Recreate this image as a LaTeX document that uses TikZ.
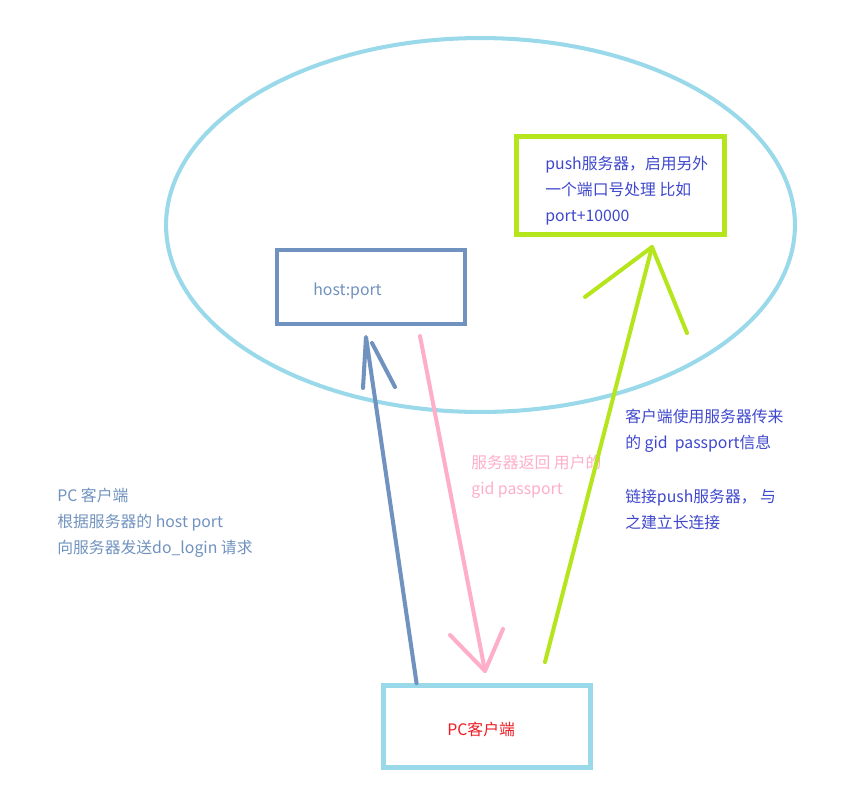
\documentclass[tikz,border=0pt]{standalone}
\usepackage{fontspec}
\setmainfont{Noto Sans CJK SC}
\usetikzlibrary{positioning, calc}
\definecolor{skyblue}{HTML}{99D9EA}
\definecolor{steelblue}{HTML}{7092BE}
\definecolor{limegreen}{HTML}{B5E61D}
\definecolor{softpink}{HTML}{FFAEC9}
\definecolor{indigo}{HTML}{3F48CC}
\definecolor{pcred}{HTML}{ED1C24}
\tikzset{
	boxnode/.style={
			draw,
			line width=2.6pt,
			fill=white,
			inner sep=0pt
		},
	hostbox/.style={
			boxnode,
			draw=steelblue,
			minimum width=3.76cm,
			minimum height=1.48cm
		},
	pushbox/.style={
			boxnode,
			draw=limegreen,
			minimum width=4.16cm,
			minimum height=1.96cm
		},
	pcbox/.style={
			boxnode,
			draw=skyblue,
			minimum width=4.14cm,
			minimum height=1.64cm
		},
	notetext/.style={
			align=left,
			anchor=base west,
			inner sep=0pt,
			font=\fontsize{9}{14.8}\selectfont
		},
	penline/.style={
			line width=2.3pt,
			line cap=round,
			line join=round
		}
}

\begin{document}
\begin{tikzpicture}[x=0.02cm, y=-0.02cm]
\useasboundingbox (0,0) rectangle (862,795);

\draw[skyblue, line width=2.3pt] (480.5,225) ellipse (6.29cm and 3.74cm);

\node[hostbox] (host) at (371,287) {};
\node[pushbox] (push) at (620.5,185.5) {};
\node[pcbox] (pc) at (487,726.5) {};

% multi-line notes sit on the baseline of their last line
\node[notetext, text=steelblue] (hostText) at (313,295) {host:port};
\node[notetext, text=indigo] (pushText) at (545,221)
	{push服务器，启用另外\\一个端口号处理 比如\\port+10000};
\node[notetext, text=pcred] (pcText) at (447,735) {PC客户端};
\node[notetext, text=softpink] (backText) at (471,494) {服务器返回 用户的\\gid passport};
\node[notetext, text=steelblue] (loginText) at (57,553)
	{PC 客户端\\根据服务器的 host port\\向服务器发送do\_login 请求};
\node[notetext, text=indigo] (useText) at (625,448)
	{客户端使用服务器传来\\的 gid\ \ passport信息};
\node[notetext, text=indigo] (linkText) at (625,528)
	{链接push服务器， 与\\之建立长连接};

% hand drawn arrows
\coordinate (blueTail) at ($(pc.north west)!0.167!(pc.north east)$);
\coordinate (blueTip) at (366,337);
\coordinate (blueBarbL) at (363,388);
\coordinate (blueTip2) at (372,343);
\coordinate (blueBarbR) at (395,387);
\draw[penline, steelblue] (blueTail) -- (blueTip) -- (blueBarbL);
\draw[penline, steelblue] (blueTip2) -- (blueBarbR);

\coordinate (pinkTail) at (420,336);
\coordinate (pinkTip) at (485,671);
\coordinate (pinkBarbL) at (450,635);
\coordinate (pinkBarbR) at (503,629);
\draw[penline, softpink] (pinkTail) -- (pinkTip);
\draw[penline, softpink] (pinkBarbL) -- (pinkTip) -- (pinkBarbR);

\coordinate (greenTail) at (545,662);
\coordinate (greenTip) at (652,247);
\coordinate (greenBarbL) at (585,297);
\coordinate (greenBarbR) at (687,333);
\draw[penline, limegreen] (greenTail) -- (greenTip);
\draw[penline, limegreen] (greenBarbL) -- (greenTip) -- (greenBarbR);

\end{tikzpicture}
\end{document}
